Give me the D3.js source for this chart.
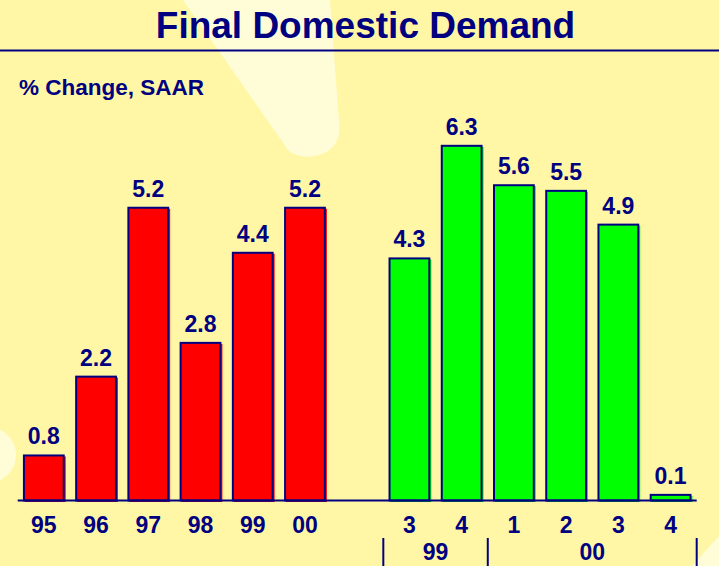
<!DOCTYPE html>
<html>
<head>
<meta charset="utf-8">
<script src="https://cdn.jsdelivr.net/npm/d3@7"></script>
<style>
  html, body { margin: 0; padding: 0; background: #fff7a6; }
  svg { display: block; }
  text { font-family: Arial, "Liberation Sans", Helvetica, sans-serif; font-weight: bold; fill: #000080; }
</style>
</head>
<body>
<svg id="chart" width="719" height="566"></svg>
<script>
// annual bars (red)
const annualLabels = ['95', '96', '97', '98', '99', '00'];
const annualValues = [0.8, 2.2, 5.2, 2.8, 4.4, 5.2];

// quarterly bars (green)
const quarterLabels = ['3', '4', '1', '2', '3', '4'];
const quarterYears = ['99', '99', '00', '00', '00', '00'];
const quarterValues = [4.3, 6.3, 5.6, 5.5, 4.9, 0.1];

const yearGroups = ['99', '00'];

const width = 719;
const height = 566;
const navy = '#000080';
const baseY = 500.5;
const unit = 56.3; // px per percentage point
const labelSize = '23px';

const svg = d3.select('#chart');

// background swooshes
svg.append('rect')
  .attr('width', width)
  .attr('height', height)
  .attr('fill', '#fff7a6');

const light = '#fffdd8';
svg.append('path')
  .attr('d', 'M183,0 L330,0 L339,122 Q342,146 322,154 Q306,160 292,153 Q288,151 284,144 Z')
  .attr('fill', light);
svg.append('ellipse')
  .attr('cx', -12).attr('cy', 455)
  .attr('rx', 28).attr('ry', 28)
  .attr('fill', light);
svg.append('path')
  .attr('d', 'M692,566 L719,536 L719,566 Z')
  .attr('fill', light);

// title
svg.append('text')
  .attr('x', 365.5)
  .attr('y', 37.5)
  .attr('text-anchor', 'middle')
  .style('font-size', '37px')
  .text('Final Domestic Demand');

svg.append('line')
  .attr('x1', 0).attr('x2', width)
  .attr('y1', 50.5).attr('y2', 50.5)
  .attr('stroke', navy)
  .attr('stroke-width', 2);

svg.append('text')
  .attr('x', 19)
  .attr('y', 95)
  .style('font-size', '22.5px')
  .text('% Change, SAAR');

// build the bar list, with an empty slot between the two series
const bars = [];
annualLabels.forEach((l, i) => bars.push({ key: 'a' + l, label: l, value: annualValues[i], color: '#ff0000' }));
const gapKey = 'gap';
quarterLabels.forEach((l, i) => bars.push({ key: 'q' + quarterYears[i] + '-' + l + '-' + i, label: l, year: quarterYears[i], value: quarterValues[i], color: '#00ff00' }));

const domain = bars.slice(0, annualLabels.length).map(d => d.key)
  .concat([gapKey])
  .concat(bars.slice(annualLabels.length).map(d => d.key));

const x = d3.scaleBand()
  .domain(domain)
  .range([17.7, 696.7])
  .paddingInner(0.2)
  .paddingOuter(0.1);

const y = d3.scaleLinear()
  .domain([0, 7])
  .range([baseY, baseY - 7 * unit]);

const labelByKey = {};
bars.forEach(d => labelByKey[d.key] = d.label);

const plot = svg.append('g').classed('plot-area', true);

// fill offset slightly, like the original's shadowed fill
plot.selectAll('.bar-fill')
  .data(bars)
  .join('rect')
    .attr('class', 'bar-fill')
    .attr('x', d => x(d.key) + 2)
    .attr('y', d => y(d.value) + 1)
    .attr('width', x.bandwidth() - 1)
    .attr('height', d => baseY - y(d.value) + 0.5)
    .attr('fill', d => d.color);

plot.selectAll('.bar')
  .data(bars)
  .join('rect')
    .attr('class', 'bar')
    .attr('x', d => x(d.key) + 1)
    .attr('y', d => y(d.value))
    .attr('width', x.bandwidth() - 2)
    .attr('height', d => baseY - y(d.value))
    .attr('fill', d => d.color)
    .attr('stroke', navy)
    .attr('stroke-width', 2);

plot.selectAll('.value-label')
  .data(bars)
  .join('text')
    .attr('class', 'value-label')
    .attr('x', d => x(d.key) + x.bandwidth() / 2)
    .attr('y', d => y(d.value) - 11)
    .attr('text-anchor', 'middle')
    .style('font-size', labelSize)
    .text(d => d.value.toFixed(1));

// baseline
svg.append('line')
  .attr('x1', x.range()[0]).attr('x2', x.range()[1])
  .attr('y1', baseY).attr('y2', baseY)
  .attr('stroke', navy)
  .attr('stroke-width', 2);

// category axis
const xAxis = d3.axisBottom(x)
  .tickSize(0)
  .tickPadding(0)
  .tickFormat(k => labelByKey[k] || '');

const axisG = svg.append('g')
  .classed('x-axis', true)
  .attr('transform', `translate(0, ${baseY})`)
  .call(xAxis);

axisG.select('.domain').remove();
axisG.selectAll('text')
  .attr('dy', null)
  .attr('y', 32.5)
  .style('font-size', labelSize)
  .style('font-family', 'Arial, "Liberation Sans", Helvetica, sans-serif')
  .attr('fill', navy);

// year groups under the quarterly bars
const halfGap = x.step() * x.paddingInner() / 2;
const quarterBars = bars.filter(d => d.year);
const groups = yearGroups.map(yr => {
  const members = quarterBars.filter(d => d.year === yr);
  const x0 = x(members[0].key) - halfGap;
  const x1 = x(members[members.length - 1].key) + x.bandwidth() + halfGap;
  return { year: yr, x0, x1 };
});

const sepXs = [groups[0].x0].concat(groups.map(g => g.x1));
svg.selectAll('.group-sep')
  .data(sepXs)
  .join('line')
    .attr('class', 'group-sep')
    .attr('x1', d => d).attr('x2', d => d)
    .attr('y1', 538).attr('y2', height)
    .attr('stroke', navy)
    .attr('stroke-width', 2);

svg.selectAll('.group-label')
  .data(groups)
  .join('text')
    .attr('class', 'group-label')
    .attr('x', d => (d.x0 + d.x1) / 2)
    .attr('y', 560)
    .attr('text-anchor', 'middle')
    .style('font-size', labelSize)
    .text(d => d.year);
</script>
</body>
</html>
